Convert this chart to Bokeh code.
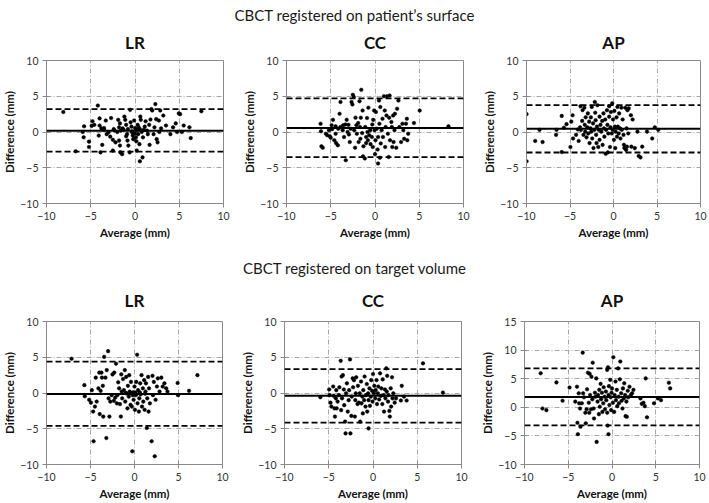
from bokeh.plotting import figure
from bokeh.layouts import column, row
from bokeh.models import Div, Span, FixedTicker, AllLabels
from bokeh.embed import file_html
from bokeh.resources import INLINE

# ---------------- data (average, difference) per panel ----------------
SURF_LR = [(-8.1,2.8),(-6.7,-2.7),(-5.9,0.0),(-5.8,-0.75),(-5.75,0.8),(-5.2,-1.35),(-5.2,-2.1),(-4.8,1.5),
 (-4.6,1.0),(-4.9,0.85),(-4.2,3.7),(-4.0,1.9),(-4.0,0.9),(-4.1,-0.5),(-3.9,-2.85),(-3.8,0.5),(-3.5,0.55),
 (-3.5,0.3),(-3.7,-1.8),(-3.3,1.6),(-3.0,-0.05),(-2.8,-0.65),(-2.7,1.95),(-2.5,-1.1),(-2.5,-2.6),(-2.4,0.4),
 (-2.2,-1.45),(-2.0,0.0),(-1.8,0.65),(-1.9,1.7),(-1.7,1.2),(-1.8,-1.2),(-1.7,-1.9),(-1.65,-2.85),(-1.45,-3.1),
 (-1.6,0.2),(-1.4,0.5),(-1.2,2.15),(-1.1,1.7),(-1.0,1.0),(-0.9,-0.3),(-0.85,-1.2),(-0.75,-1.9),(-0.6,-2.85),
 (-0.55,3.1),(-0.5,1.35),(-0.4,0.75),(-0.35,0.1),(-0.25,-0.5),(-0.2,-1.0),(-0.1,1.6),(0.0,0.55),(0.0,-0.2),
 (0.1,-0.75),(0.2,-2.6),(0.3,1.0),(0.35,-0.3),(0.5,-1.7),(0.55,0.4),(0.6,2.15),(0.65,1.7),(0.75,0.0),
 (0.85,-3.55),(0.55,-4.1),(0.9,-0.75),(1.1,0.75),(1.2,1.5),(1.35,0.2),(1.45,-0.3),(1.6,1.0),(1.65,-1.8),
 (1.75,1.75),(1.85,3.2),(1.95,3.0),(2.1,-0.3),(2.2,0.65),(2.3,3.9),(2.4,1.8),(2.45,-1.0),(2.55,-1.45),
 (2.7,1.6),(2.75,0.0),(2.85,3.0),(2.95,0.5),(3.2,2.3),(3.5,0.9),(4.0,-0.3),(4.3,0.65),(4.6,1.2),(4.75,0.0),
 (4.95,2.6),(5.1,2.5),(5.3,0.0),(5.5,0.9),(6.15,0.65),(6.3,-0.85),(7.5,2.9),(-1.3,0.3),(-0.8,0.4),(0.2,0.3),
 (0.4,0.7),(-0.3,-0.1),(1.0,0.3),(-2.3,0.2),(-3.2,-0.3),(0.15,-1.3),(-1.0,-0.6)]

SURF_CC = [(-6.15,1.15),(-6.1,0.1),(-6.05,-2.0),(-5.9,-2.2),(-5.55,-0.25),(-5.4,-0.45),(-5.2,0.25),(-5.1,-0.6),
 (-5.0,-0.8),(-4.9,0.95),(-4.85,0.4),(-4.75,1.7),(-4.6,-1.15),(-4.45,-0.25),(-4.45,0.8),(-4.4,-1.55),(-4.2,-1.85),
 (-4.15,0.45),(-4.0,2.55),(-3.9,0.7),(-3.9,4.2),(-3.65,0.25),(-3.6,0.95),(-3.5,-0.7),(-3.35,1.05),(-3.3,-3.95),
 (-3.2,1.7),(-3.1,0.0),(-3.0,1.0),(-2.95,-0.35),(-2.85,-1.4),(-2.75,0.45),(-2.65,4.2),(-2.55,3.85),(-2.5,5.2),
 (-2.4,4.9),(-2.35,0.25),(-2.25,-2.2),(-2.2,2.0),(-2.1,0.95),(-2.05,-0.25),(-1.9,1.25),(-1.85,-1.4),(-1.75,4.3),
 (-1.7,0.7),(-1.65,-0.95),(-1.6,2.0),(-1.55,5.9),(-1.45,-0.15),(-1.4,3.0),(-1.35,-3.4),(-1.3,-2.0),(-1.15,-3.7),
 (-1.1,0.7),(-1.0,-0.7),(-1.0,-1.55),(-0.9,1.95),(-0.85,0.0),(-0.8,-1.15),(-0.75,3.4),(-0.65,-0.45),(-0.55,0.25),
 (-0.5,-1.7),(-0.35,-0.7),(-0.3,1.05),(-0.25,-2.1),(-0.2,1.7),(-0.1,3.0),(-0.05,0.25),(0.0,-3.1),(0.05,-1.15),
 (0.1,2.8),(0.2,0.45),(0.3,-2.45),(0.35,-4.4),(0.35,-0.7),(0.45,4.4),(0.5,1.15),(0.55,-3.6),(0.6,3.5),(0.65,-1.6),
 (0.75,0.25),(0.85,1.85),(0.9,-0.7),(1.0,5.0),(1.1,3.0),(1.15,-2.1),(1.2,0.7),(1.3,2.3),(1.35,5.0),(1.45,-0.25),
 (1.55,-3.5),(1.6,2.0),(1.65,5.1),(1.7,-1.15),(1.85,1.4),(1.9,0.7),(1.95,-2.1),(2.05,2.3),(2.1,-1.4),(2.2,0.25),
 (2.25,2.55),(2.4,-2.2),(2.5,3.25),(2.65,4.4),(2.75,0.7),(2.95,-1.4),(3.1,1.15),(3.2,0.25),(3.3,-0.95),(3.5,1.15),
 (3.6,1.85),(3.65,-1.15),(3.75,-0.25),(4.4,1.25),(5.05,3.0),(8.3,0.8)]

SURF_AP = [(-10.0,2.5),(-10.0,-4.1),(-9.0,-1.25),(-8.5,0.3),(-8.15,-1.4),(-6.6,-0.4),(-6.55,0.3),(-5.95,2.25),
 (-5.95,-2.8),(-5.7,0.6),(-5.4,1.1),(-4.95,-2.1),(-4.85,1.45),(-4.7,2.35),(-4.65,-0.9),(-4.3,-0.4),(-4.1,0.35),
 (-4.0,-1.25),(-3.85,0.65),(-3.8,3.6),(-3.75,0.3),(-3.6,1.55),(-3.55,3.05),(-3.45,-0.4),(-3.35,3.4),(-3.3,1.0),
 (-3.25,0.05),(-3.2,2.05),(-3.1,-0.75),(-3.0,0.65),(-2.95,2.6),(-2.9,-0.2),(-2.8,1.45),(-2.75,-1.55),(-2.65,0.5),
 (-2.6,2.05),(-2.55,0.05),(-2.5,3.5),(-2.45,-0.9),(-2.35,1.2),(-2.3,-2.25),(-2.2,0.3),(-2.15,4.2),(-2.1,2.7),
 (-2.05,1.65),(-2.0,-0.4),(-1.95,-1.55),(-1.9,0.75),(-1.85,3.75),(-1.75,-2.1),(-1.7,0.3),(-1.6,2.15),(-1.6,-1.1),
 (-1.5,1.0),(-1.4,0.05),(-1.3,1.55),(-1.25,-1.8),(-1.15,2.6),(-1.1,0.5),(-1.05,-0.65),(-0.95,1.75),(-0.9,-3.05),
 (-0.85,0.3),(-0.75,3.05),(-0.7,1.0),(-0.65,-2.85),(-0.6,-0.2),(-0.5,3.6),(-0.5,2.15),(-0.4,-2.1),(-0.35,0.65),
 (-0.3,2.8),(-0.2,-0.2),(-0.15,4.0),(-0.1,0.3),(-0.05,1.75),(0.05,-1.1),(0.1,2.95),(0.15,0.75),(0.2,-2.25),
 (0.25,0.05),(0.35,2.05),(0.4,-0.65),(0.45,3.5),(0.5,0.75),(0.6,-0.2),(0.65,2.6),(0.75,0.5),(0.8,-0.9),(0.9,3.4),
 (0.95,0.3),(1.05,1.75),(1.15,-0.4),(1.2,-1.8),(1.25,-2.25),(1.35,3.4),(1.45,-2.5),(1.5,0.5),(1.55,-2.05),
 (1.6,3.05),(1.7,-0.2),(1.75,3.3),(2.0,2.35),(2.05,-2.05),(2.2,1.75),(2.45,-2.25),(2.75,0.05),(2.9,-3.35),
 (3.1,-3.55),(3.3,-2.05),(3.85,0.05),(4.45,-0.9),(4.75,0.65),(5.15,0.3)]

TARG_LR = [(-7.15,4.8),(-5.7,1.1),(-5.65,-0.45),(-5.15,-0.95),(-4.95,-1.35),(-4.85,0.4),(-4.7,-2.6),(-4.65,-6.75),
 (-4.5,-1.9),(-4.4,2.15),(-4.3,-1.2),(-4.1,0.65),(-4.0,2.85),(-3.95,-2.95),(-3.85,0.3),(-3.75,2.85),(-3.7,2.15),
 (-3.6,1.0),(-3.55,-3.3),(-3.45,5.05),(-3.3,2.15),(-3.2,-6.3),(-3.15,3.2),(-3.0,5.85),(-2.95,-0.75),(-2.85,-3.3),
 (-2.75,-1.2),(-2.6,-0.3),(-2.5,2.6),(-2.35,-1.1),(-2.3,2.85),(-2.2,-0.65),(-2.1,4.1),(-2.0,-1.45),(-1.95,-0.3),
 (-1.85,1.5),(-1.75,0.65),(-1.65,-1.55),(-1.55,-3.3),(-1.5,2.6),(-1.45,0.2),(-1.4,-0.75),(-1.3,1.95),(-1.2,0.4),
 (-1.1,3.2),(-1.05,-1.2),(-0.95,2.25),(-0.9,-0.05),(-0.8,-2.15),(-0.75,1.0),(-0.65,-0.5),(-0.6,2.5),(-0.55,0.2),
 (-0.45,-1.65),(-0.4,1.55),(-0.3,-1.9),(-0.25,-8.15),(-0.15,0.1),(-0.1,-0.95),(0.0,0.9),(0.05,-2.35),(0.15,-0.3),
 (0.2,1.55),(0.3,5.35),(0.35,-1.45),(0.4,0.4),(0.5,-2.6),(0.55,-0.75),(0.65,1.35),(0.7,-0.2),(0.8,2.5),(0.85,-1.9),
 (0.95,0.65),(1.0,-1.2),(1.1,1.8),(1.15,-2.35),(1.25,0.2),(1.3,1.35),(1.4,-4.9),(1.45,-0.75),(1.55,2.25),
 (1.6,-2.6),(1.65,0.65),(1.75,-1.45),(1.95,-6.75),(2.05,2.4),(2.1,-0.3),(2.2,1.55),(2.3,-8.85),(2.4,-0.95),
 (2.55,0.9),(2.65,2.05),(2.85,0.2),(3.05,2.15),(3.2,0.9),(3.4,1.35),(3.6,0.65),(3.75,0.2),(4.9,1.4),(4.95,-0.3),
 (6.2,0.3),(7.15,2.5),(-0.35,0.0),(0.1,0.05),(-1.0,0.0),(0.6,0.1),(-0.2,-0.3),(1.2,-0.1)]

TARG_CC = [(-5.95,-0.6),(-4.95,0.5),(-4.9,-0.3),(-4.8,-1.35),(-4.7,-1.9),(-4.5,0.9),(-4.45,-0.4),(-4.35,-2.15),
 (-4.3,-3.3),(-4.2,-0.75),(-4.15,0.4),(-4.1,-2.15),(-4.0,-1.2),(-3.85,-0.3),(-3.8,0.8),(-3.65,4.5),(-3.6,-2.4),
 (-3.55,2.3),(-3.5,-0.75),(-3.4,2.5),(-3.3,0.5),(-3.25,-1.7),(-3.15,-4.0),(-3.1,-5.65),(-3.05,-0.05),(-2.95,1.35),
 (-2.85,-2.6),(-2.75,-1.0),(-2.7,0.4),(-2.6,4.7),(-2.55,-5.65),(-2.45,-3.2),(-2.4,-0.5),(-2.3,2.05),(-2.25,0.8),
 (-2.15,1.8),(-2.05,-3.3),(-2.0,-1.0),(-1.95,-0.05),(-1.9,2.2),(-1.75,-1.55),(-1.7,1.0),(-1.6,-1.35),(-1.5,-0.05),
 (-1.45,-4.0),(-1.35,1.6),(-1.3,-1.45),(-1.2,-0.5),(-1.15,-2.85),(-1.1,0.4),(-1.0,-1.0),(-0.95,2.3),(-0.85,-1.9),
 (-0.8,-0.3),(-0.7,1.25),(-0.65,-2.6),(-0.55,-0.05),(-0.5,-4.95),(-0.5,-1.0),(-0.4,0.65),(-0.35,-1.8),(-0.25,-0.5),
 (-0.2,1.8),(-0.1,0.3),(-0.05,-1.2),(0.0,2.65),(0.1,-0.05),(0.15,1.0),(0.25,-0.75),(0.3,0.4),(0.4,1.8),(0.45,-1.55),
 (0.55,-0.05),(0.6,0.9),(0.7,-0.9),(0.8,2.75),(0.9,-0.4),(0.95,0.65),(1.05,-1.55),(1.1,1.9),(1.2,-0.3),(1.25,-2.6),
 (1.35,0.5),(1.4,-0.75),(1.5,3.45),(1.55,0.2),(1.6,2.4),(1.7,-1.2),(1.75,-0.3),(1.85,-2.5),(1.9,-3.3),(2.0,0.65),
 (2.05,-1.9),(2.15,2.2),(2.2,-0.75),(2.3,-0.05),(2.45,-1.35),(2.6,-0.75),(3.15,-1.05),(3.25,1.0),(3.5,-0.5),
 (3.8,-1.05),(5.65,4.15),(7.9,0.05)]

TARG_AP = [(-8.15,5.95),(-7.95,-0.2),(-7.5,-0.5),(-6.35,4.35),(-5.65,1.15),(-4.85,3.45),(-4.2,1.0),(-4.0,3.6),
 (-3.95,-2.7),(-3.9,-4.7),(-3.8,2.45),(-3.75,0.7),(-3.65,-0.2),(-3.6,-3.4),(-3.45,0.7),(-3.35,9.55),(-3.3,2.45),
 (-3.2,1.75),(-3.05,-0.95),(-3.0,-2.8),(-2.9,-0.35),(-2.85,3.15),(-2.75,6.05),(-2.65,0.8),(-2.6,-0.95),(-2.55,5.85),
 (-2.5,2.15),(-2.4,-0.35),(-2.35,5.35),(-2.25,1.4),(-2.2,7.8),(-2.1,-0.2),(-2.05,-1.95),(-1.95,2.55),(-1.9,1.85),
 (-1.8,5.05),(-1.75,-6.05),(-1.65,1.0),(-1.6,2.15),(-1.5,-1.2),(-1.45,3.05),(-1.4,0.1),(-1.3,4.1),(-1.25,1.4),
 (-1.15,2.55),(-1.1,-0.8),(-1.0,0.7),(-0.95,3.5),(-0.85,1.85),(-0.8,-0.35),(-0.7,2.75),(-0.65,1.25),(-0.55,6.55),
 (-0.55,-0.95),(-0.5,-3.2),(-0.45,7.0),(-0.4,-4.7),(-0.4,2.15),(-0.35,3.7),(-0.3,0.4),(-0.2,4.8),(-0.15,1.75),
 (-0.1,-0.5),(-0.05,2.55),(0.0,3.3),(0.1,0.8),(0.15,8.75),(0.25,-0.8),(0.3,2.15),(0.4,4.5),(0.45,1.25),(0.55,3.05),
 (0.6,0.2),(0.7,6.8),(0.75,1.85),(0.8,0.7),(0.9,4.9),(0.95,8.0),(1.05,2.45),(1.1,1.15),(1.2,-0.2),(1.25,3.3),
 (1.35,1.55),(1.4,4.2),(1.5,2.15),(1.55,-1.55),(1.65,1.0),(1.7,-1.65),(1.8,2.9),(1.85,1.75),(2.0,3.6),(2.15,2.15),
 (2.3,2.45),(2.45,3.05),(3.25,1.55),(3.4,0.6),(3.6,0.8),(3.75,0.2),(3.85,5.05),(4.0,-1.75),(4.8,0.7),(5.25,1.55),
 (5.6,1.25),(6.5,4.3),(6.65,3.3)]

# mean difference and limits of agreement (upper, lower) per panel
MEAN = {"SURF_LR": 0.19, "SURF_CC": 0.56, "SURF_AP": 0.46, "TARG_LR": -0.15, "TARG_CC": -0.37, "TARG_AP": 1.8}
UPPER = {"SURF_LR": 3.2, "SURF_CC": 4.7, "SURF_AP": 3.75, "TARG_LR": 4.4, "TARG_CC": 3.35, "TARG_AP": 6.8}
LOWER = {"SURF_LR": -2.75, "SURF_CC": -3.5, "SURF_AP": -2.87, "TARG_LR": -4.6, "TARG_CC": -4.15, "TARG_AP": -3.17}

X_TICKS = [-10, -5, 0, 5, 10]
Y_TICKS = [-10, -5, 0, 5, 10]
Y_TICKS_AP2 = [-10, -5, 0, 5, 10, 15]

HEADER_1 = "CBCT registered on patient\u2019s surface"
HEADER_2 = "CBCT registered on target volume"

FONT = "Lato"


def panel(title, key, pts, yr, yticks, w, h, bl, br, bt, bb, title_standoff):
    p = figure(width=w, height=h, x_range=(-10, 10), y_range=yr,
               output_backend="svg", toolbar_location=None, title=title,
               min_border_left=bl, min_border_right=br, min_border_top=bt, min_border_bottom=bb)
    p.title.align = "center"
    p.title.text_font = FONT
    p.title.text_font_size = "17px"
    p.title.text_font_style = "bold"
    p.title.text_color = "#111111"
    p.title.standoff = title_standoff
    p.outline_line_color = "#8a8a8a"
    p.outline_line_width = 1
    p.background_fill_color = "white"
    p.border_fill_alpha = 0

    grid_x = [t for t in X_TICKS if -10 < t < 10]
    grid_y = [t for t in yticks if yr[0] < t < yr[1]]
    p.xgrid.ticker = FixedTicker(ticks=grid_x)
    p.ygrid.ticker = FixedTicker(ticks=grid_y)
    for g in (p.xgrid, p.ygrid):
        g.grid_line_color = "#a8a8a8"
        g.grid_line_dash = "5 2 1 2"
        g.grid_line_width = 1

    p.xaxis.ticker = FixedTicker(ticks=X_TICKS)
    p.yaxis.ticker = FixedTicker(ticks=yticks)
    for ax in (p.xaxis, p.yaxis):
        ax.axis_line_color = "#8a8a8a"
        ax.major_tick_line_color = "#8a8a8a"
        ax.major_tick_out = 4
        ax.major_tick_in = 3
        ax.minor_tick_out = 0
        ax.minor_tick_in = 0
        ax.major_label_policy = AllLabels()
        ax.major_label_text_font = FONT
        ax.major_label_text_font_size = "10.5px"
        ax.major_label_text_color = "#333333"
        ax.axis_label_text_font = FONT
        ax.axis_label_text_font_size = "11.5px"
        ax.axis_label_text_font_style = "bold"
        ax.axis_label_text_color = "#111111"
    p.xaxis.major_label_standoff = 4
    p.xaxis.axis_label_standoff = 3
    p.yaxis.major_label_standoff = 4
    p.yaxis.axis_label_standoff = 1
    p.xaxis.axis_label = "Average (mm)"
    p.yaxis.axis_label = "Difference (mm)"

    xs = [a for a, d in pts]
    ys = [d for a, d in pts]
    p.scatter(xs, ys, marker="circle", size=3.6, fill_color="black", line_color="black", line_width=0.5)

    p.add_layout(Span(location=UPPER[key], dimension="width", line_color="black", line_width=1.8, line_dash="6 3"))
    p.add_layout(Span(location=LOWER[key], dimension="width", line_color="black", line_width=1.8, line_dash="6 3"))
    p.add_layout(Span(location=MEAN[key], dimension="width", line_color="black", line_width=2))
    return p


def header(text, h, pad):
    return Div(text=f'<div style="width:709px;text-align:center;font-family:{FONT};font-size:15px;'
                    f'line-height:18px;padding-top:{pad}px;color:#1a1a1a;white-space:nowrap;">{text}</div>',
               width=709, height=h, margin=(0, 0, 0, 0))


# fixed outer sizes: 240 + 240 + 229 = 709 (row 1), 238 + 240 + 231 = 709 (row 2)
p1 = panel("LR", "SURF_LR", SURF_LR, (-10, 10), Y_TICKS, 240, 232, 41, 17, 40, 49, 16)
p2 = panel("CC", "SURF_CC", SURF_CC, (-10, 10), Y_TICKS, 240, 232, 41, 17, 40, 49, 16)
p3 = panel("AP", "SURF_AP", SURF_AP, (-10, 10), Y_TICKS, 229, 232, 41, 9, 40, 49, 16)
p4 = panel("LR", "TARG_LR", TARG_LR, (-10, 10), Y_TICKS, 238, 227, 40, 16, 45, 39, 21)
p5 = panel("CC", "TARG_CC", TARG_CC, (-10, 10), Y_TICKS, 240, 227, 40, 17, 45, 39, 21)
p6 = panel("AP", "TARG_AP", TARG_AP, (-10, 15), Y_TICKS_AP2, 231, 227, 40, 10, 45, 39, 21)

layout = column(
    header(HEADER_1, 20, 6),
    row(p1, p2, p3, spacing=0, margin=(0, 0, 0, 0)),
    header(HEADER_2, 24, 7),
    row(p4, p5, p6, spacing=0, margin=(0, 0, 0, 0)),
    spacing=0, margin=(0, 0, 0, 0),
)

open("out.html", "w").write(file_html(layout, INLINE))
